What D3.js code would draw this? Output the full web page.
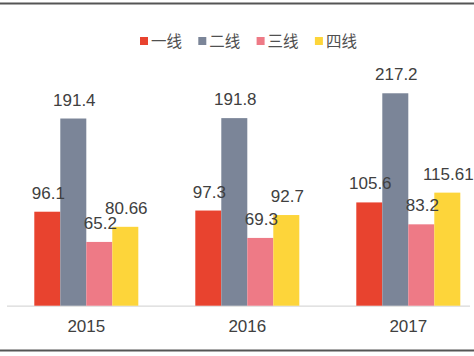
<!DOCTYPE html>
<html>
<head>
<meta charset="utf-8">
<script src="https://cdn.jsdelivr.net/npm/d3@7/dist/d3.min.js"></script>
<style>
html,body{margin:0;padding:0;background:#fff;}
svg{display:block;}
</style>
</head>
<body>
<svg id="chart" width="474" height="356"></svg>
<script>
const years = ["2015", "2016", "2017"];
const seriesNames = ["一线", "二线", "三线", "四线"];
const tier1 = [96.1, 97.3, 105.6];
const tier2 = [191.4, 191.8, 217.2];
const tier3 = [65.2, 69.3, 83.2];
const tier4 = [80.66, 92.7, 115.61];
const valueLabels = [
  ["96.1", "97.3", "105.6"],
  ["191.4", "191.8", "217.2"],
  ["65.2", "69.3", "83.2"],
  ["80.66", "92.7", "115.61"]
];
const colors = ["#E8432F", "#7B8598", "#EE7A86", "#FDD53A"];

const series = [tier1, tier2, tier3, tier4];
const svg = d3.select("#chart");
const W = 474, H = 356;
const baseY = 305.7;
const font = "'Liberation Sans', Arial, sans-serif";

// frame lines
svg.append("rect").attr("x", 0).attr("y", 2.5).attr("width", W).attr("height", 2).attr("fill", "#555");
svg.append("rect").attr("x", 0).attr("y", 349.5).attr("width", W).attr("height", 2).attr("fill", "#555");

const x0 = d3.scaleBand().domain(years).range([5.8, 488.8]).paddingInner(0.354).paddingOuter(0.177);
const x1 = d3.scaleBand().domain(seriesNames).range([0, x0.bandwidth()]);
const y = d3.scaleLinear().domain([0, 250]).range([baseY, baseY - 250 * 0.978]);

// baseline
svg.append("line").attr("x1", 7).attr("x2", 470).attr("y1", baseY + 0.5).attr("y2", baseY + 0.5)
  .attr("stroke", "#d9d9d9").attr("stroke-width", 1.2);

const groups = svg.append("g").selectAll("g").data(years).join("g")
  .attr("transform", d => `translate(${x0(d)},0)`);

groups.each(function(yr, i) {
  const g = d3.select(this);
  seriesNames.forEach((s, j) => {
    const v = series[j][i];
    g.append("rect")
      .attr("x", x1(s)).attr("width", x1.bandwidth())
      .attr("y", y(v)).attr("height", baseY - y(v))
      .attr("fill", colors[j]);
  });
});
groups.each(function(yr, i) {
  const g = d3.select(this);
  seriesNames.forEach((s, j) => {
    const v = series[j][i];
    g.append("text")
      .attr("x", x1(s) + x1.bandwidth() / 2 + 1)
      .attr("y", y(v) - 13)
      .attr("text-anchor", "middle")
      .attr("font-family", font).attr("font-size", 17)
      .attr("fill", "#404040")
      .text(valueLabels[j][i]);
  });
});

// x axis labels
const xAxis = d3.axisBottom(x0).tickSize(0).tickPadding(0);
const ax = svg.append("g").attr("transform", `translate(0,${baseY})`).call(xAxis);
ax.select(".domain").remove();
ax.selectAll("text").attr("font-family", font).attr("font-size", 17).attr("fill", "#404040")
  .attr("dy", null).attr("y", 26);

// legend
const legend = svg.append("g").attr("transform", "translate(140,41)");
seriesNames.forEach((s, j) => {
  const lg = legend.append("g").attr("transform", `translate(${j * 58.3},0)`);
  lg.append("rect").attr("x", 0).attr("y", -4).attr("width", 8).attr("height", 8).attr("fill", colors[j]);
  lg.append("text").attr("x", 11).attr("y", 5.5)
    .attr("font-family", "'Noto Sans CJK SC', sans-serif").attr("font-size", 15.5)
    .attr("fill", "#505050").text(s);
});
</script>
</body>
</html>
